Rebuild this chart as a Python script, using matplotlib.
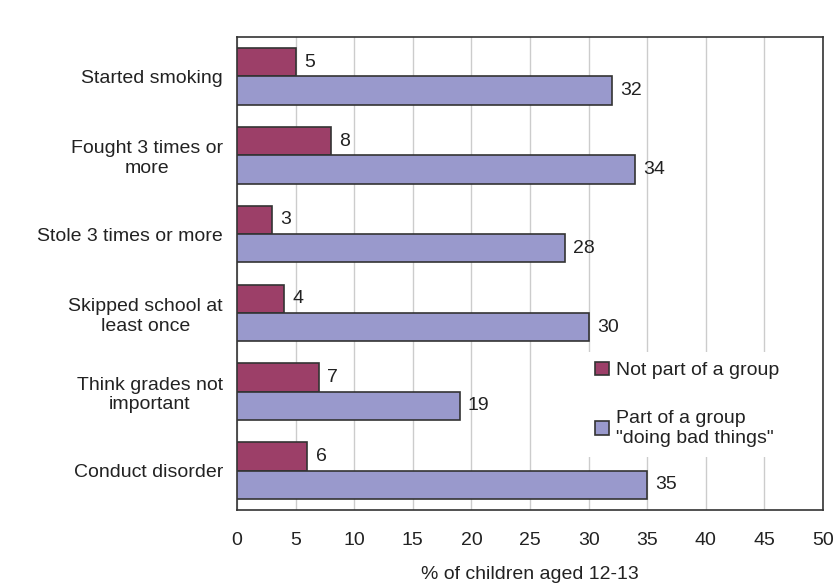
import matplotlib.pyplot as plt
import numpy as np

plt.rcParams['font.family'] = ['Liberation Sans', 'DejaVu Sans']

categories = ['Started smoking', 'Fought 3 times or\nmore', 'Stole 3 times or more',
              'Skipped school at\nleast once', 'Think grades not\nimportant', 'Conduct disorder']
not_group = [5, 8, 3, 4, 7, 6]
bad_group = [32, 34, 28, 30, 19, 35]
xticks = [0, 5, 10, 15, 20, 25, 30, 35, 40, 45, 50]

c_not = '#9c3f68'
c_bad = '#9999cc'
edge = '#333333'
fs = 14

fig = plt.figure(figsize=(8.35, 5.88), dpi=100)
ax = fig.add_axes([237/835, 1-510/588, 586/835, 473/588])

y = np.arange(len(categories))
h = 0.36
b1 = ax.barh(y - h/2, not_group, height=h, color=c_not, edgecolor=edge, linewidth=1.2,
             label='Not part of a group', zorder=3)
b2 = ax.barh(y + h/2, bad_group, height=h, color=c_bad, edgecolor=edge, linewidth=1.2,
             label='Part of a group\n"doing bad things"', zorder=3)

for bars, vals in ((b1, not_group), (b2, bad_group)):
    for r, v in zip(bars, vals):
        ax.text(v + 0.7, r.get_y() + r.get_height()/2, str(v), va='center', ha='left',
                fontsize=fs, color='#222222', zorder=4)

ax.set_ylim(len(categories) - 0.5, -0.5)
ax.set_xlim(0, 50)
ax.set_yticks(y)
ax.set_yticklabels(categories, fontsize=fs, multialignment='center', color='#222222')
ax.set_xticks(xticks)
ax.set_xticklabels([str(t) for t in xticks], fontsize=fs, color='#222222')
ax.tick_params(axis='both', length=0)
ax.tick_params(axis='x', pad=16)
ax.tick_params(axis='y', pad=10)
ax.xaxis.grid(True, color='#cccccc', linewidth=1, zorder=0)
ax.set_axisbelow(True)
for s in ax.spines.values():
    s.set_color('#333333')
    s.set_linewidth(1.2)

ax.set_xlabel('% of children aged 12-13', fontsize=fs, labelpad=12, color='#222222')

leg = ax.legend(loc='upper left', bbox_to_anchor=(0.578, 0.355), frameon=True, fontsize=fs,
                handlelength=0.7, handleheight=0.7, handletextpad=0.35, labelspacing=1.6,
                borderpad=0.5, fancybox=False)
leg.get_frame().set_edgecolor('none')
leg.get_frame().set_facecolor('white')
leg.get_frame().set_alpha(1)
leg.set_zorder(5)
for t in leg.get_texts():
    t.set_color('#222222')

fig.savefig('out.png', dpi=100)
